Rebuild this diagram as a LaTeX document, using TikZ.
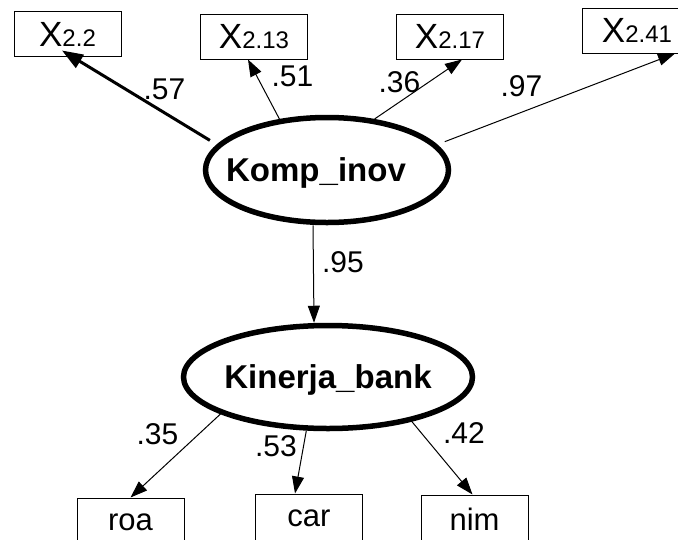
\documentclass[tikz,border=0pt]{standalone}
\usepackage{fontspec}
\setmainfont{Liberation Sans}
\usetikzlibrary{shapes.geometric,arrows.meta}
\tikzset{>={Triangle[length=17pt,width=12pt]}}
\newcommand{\xvar}[1]{X{\fontsize{24}{24}\selectfont #1}}

\begin{document}
\begin{tikzpicture}
    [
      x=1pt, y=-1pt,
      latent/.style={ellipse, draw, line width=5.5pt, inner sep=0pt, text depth=0pt, font=\fontsize{33}{33}\selectfont\bfseries},
      observed/.style={rectangle, draw, line width=1pt, inner sep=0pt, minimum width=107pt, minimum height=45pt, font=\fontsize{35}{35}\selectfont},
      indicator/.style={rectangle, draw, line width=1pt, inner sep=0pt, minimum width=107pt, minimum height=48pt, font=\fontsize{31}{31}\selectfont},
      coef/.style={inner sep=0pt, font=\fontsize{30}{30}\selectfont},
      arr/.style={->, draw, line width=1pt},
      heavy/.style={-{Triangle[length=21pt,width=15pt]}, draw, line width=3pt}
    ]
    \useasboundingbox (0,0) rectangle (678,539);
    \node (komp) [latent, minimum width=243pt, minimum height=105pt] at (327,170) {\makebox[0pt]{Komp\_inov\hspace{22pt}}};
    \node (kin) [latent, minimum width=289pt, minimum height=103pt] at (328,377) {\makebox[0pt]{Kinerja\_bank}};
    \node (x-22) [observed] at (67.5,34) {\xvar{2.2}};
    \node (x-213) [observed] at (254,36.5) {\xvar{2.13}};
    \node (x-217) [observed] at (450,36.5) {\xvar{2.17}};
    \node (x-241) [observed, minimum width=110pt] at (637,30.5) {\xvar{2.41}};
    \node (roa) [indicator] at (130.5,522) {roa};
    \node (car) [indicator] at (309,518) {car};
    \node (nim) [indicator] at (474.5,519) {nim};

    \node (c-57) [coef] at (164.5,89) {.57};
    \node (c-51) [coef] at (292.5,76) {.51};
    \node (c-36) [coef] at (399.5,82.5) {.36};
    \node (c-97) [coef] at (521.5,86.5) {.97};
    \node (c-95) [coef] at (343,262.5) {.95};
    \node (c-35) [coef] at (157.5,434) {.35};
    \node (c-53) [coef] at (276,446) {.53};
    \node (c-42) [coef] at (464,433.5) {.42};

    \draw [heavy, shorten <=8pt] (komp.167) -- ([xshift=-5.5pt,yshift=6.5pt]x-22.south);
    \draw [arr] (komp.133) -- ([xshift=-6pt]x-213.south);
    \draw [arr] (komp.47) -- ([xshift=12pt]x-217.south);
    \draw [arr, shorten <=8pt] (komp.13) -- ([xshift=38pt]x-241.south);

    \draw [arr] ([xshift=-14pt]komp.south) -- ([xshift=-14pt]kin.north);

    \draw [arr, shorten <=-5pt] (kin.199) -- (roa.north);
    \draw [arr] (kin.248) -- ([xshift=-14pt]car.north);
    \draw [arr, shorten <=-5pt] (kin.332) -- ([xshift=-2pt]nim.north);
  \end{tikzpicture}
\end{document}
